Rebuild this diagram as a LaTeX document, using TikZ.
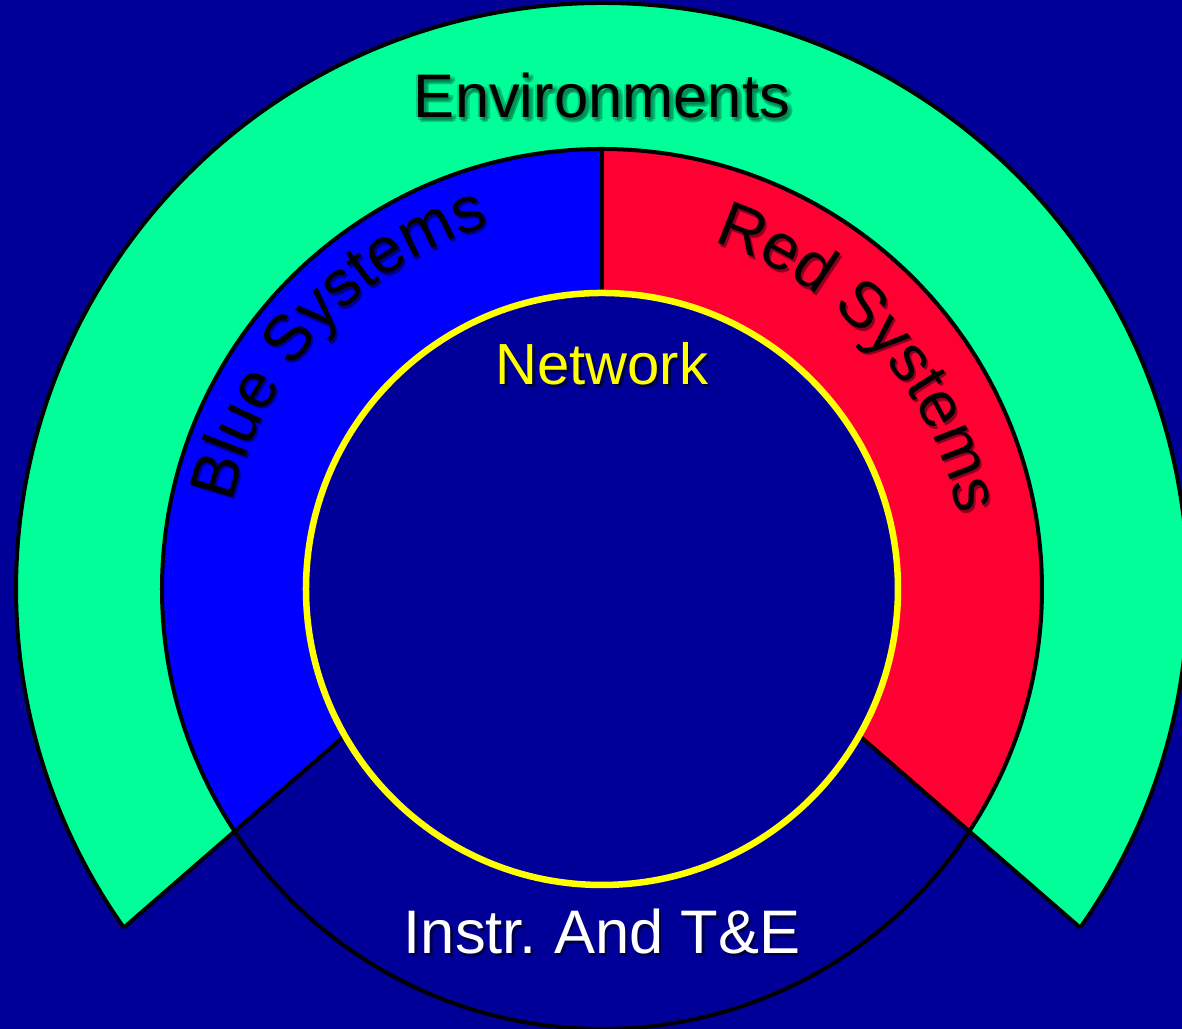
\documentclass[tikz,border=0pt]{standalone}
\usepackage{fontspec}
\setmainfont{Liberation Sans}
\usetikzlibrary{decorations.text}

\definecolor{bgblue}{RGB}{0,0,153}
\definecolor{envgreen}{RGB}{0,255,153}
\definecolor{envshadow}{RGB}{0,95,55}
\definecolor{sysblue}{RGB}{0,0,255}
\definecolor{blueshadow}{RGB}{0,0,130}
\definecolor{sysred}{RGB}{255,0,51}
\definecolor{redshadow}{RGB}{140,0,30}
\definecolor{netyellow}{RGB}{255,255,0}
\definecolor{navyshadow}{RGB}{0,0,70}

\tikzset{
  rim/.style={draw=black,line width=0.04cm},
  bigtext/.style={font=\fontsize{17.5}{20}\selectfont,inner sep=0pt},
  arctext/.style={decorate,decoration={text along path,text align=center,text color=#1}},
}

\begin{document}
\begin{tikzpicture}
\useasboundingbox (-6.02,-4.40) rectangle (5.80,5.89);
\fill[bgblue] (-6.02,-4.40) rectangle (5.80,5.89);

\coordinate (c) at (0,0);
\coordinate (li) at (-2.572,-1.466); % left cut on network circle
\coordinate (lo) at (-4.782,-3.387); % left cut, outer corner
\coordinate (ri) at (2.572,-1.466);
\coordinate (ro) at (4.782,-3.387);

% rings above the two cuts
\begin{scope}
\clip (0,0.77) -- (-6.79,-5.13) -- (-7,7) -- (7,7) -- (6.79,-5.13) -- cycle;
\fill[envgreen,even odd rule] (c) circle (5.86) (c) circle (4.40);
\fill[sysblue] (90:4.40) arc (90:270:4.40) -- (270:2.96) arc (270:90:2.96) -- cycle;
\fill[sysred] (90:4.40) arc (90:-90:4.40) -- (-90:2.96) arc (-90:90:2.96) -- cycle;
\end{scope}

\draw[rim] (c) circle (4.40);
\draw[rim] (ro) arc (-35.31:215.31:5.86);
\draw[rim] (li) -- (lo);
\draw[rim] (ri) -- (ro);
\draw[rim] (0,2.96) -- (0,4.40);
\draw[netyellow,line width=0.065cm] (c) circle (2.96);

% labels
\foreach \dx/\dy in {0.04/-0.04,0.02/-0.05,0.05/-0.02,0/-0.03,-0.02/0}
  \node[bigtext,text=envshadow,opacity=0.3] at (\dx,4.93+\dy) {Environments};
\node[bigtext] (env) at (0,4.93) {Environments};

\node[bigtext,font=\fontsize{16.5}{20}\selectfont,text=navyshadow] at (0.025,2.225) {Network};
\node[bigtext,font=\fontsize{16.5}{20}\selectfont,text=netyellow] (net) at (0,2.25) {Network};

\node[bigtext,text=navyshadow] at (0.025,-3.455) {Instr.\ And T\&E};
\node[bigtext,text=white] (instr) at (0,-3.43) {Instr.\ And T\&E};

\begin{scope}[shift={(0.02,-0.025)}]
\path[arctext=blueshadow,decoration={text={|\fontsize{18.4}{20}\selectfont|Blue Systems}}] (178:3.80) arc (178:96:3.80);
\path[arctext=redshadow,decoration={text={|\fontsize{18.4}{20}\selectfont|Red Systems}}] (84:3.64) arc (84:0:3.64);
\end{scope}
\path[arctext=black,decoration={text={|\fontsize{18.4}{20}\selectfont|Blue Systems}}] (178:3.80) arc (178:96:3.80);
\path[arctext=black,decoration={text={|\fontsize{18.4}{20}\selectfont|Red Systems}}] (84:3.64) arc (84:0:3.64);
\end{tikzpicture}
\end{document}
